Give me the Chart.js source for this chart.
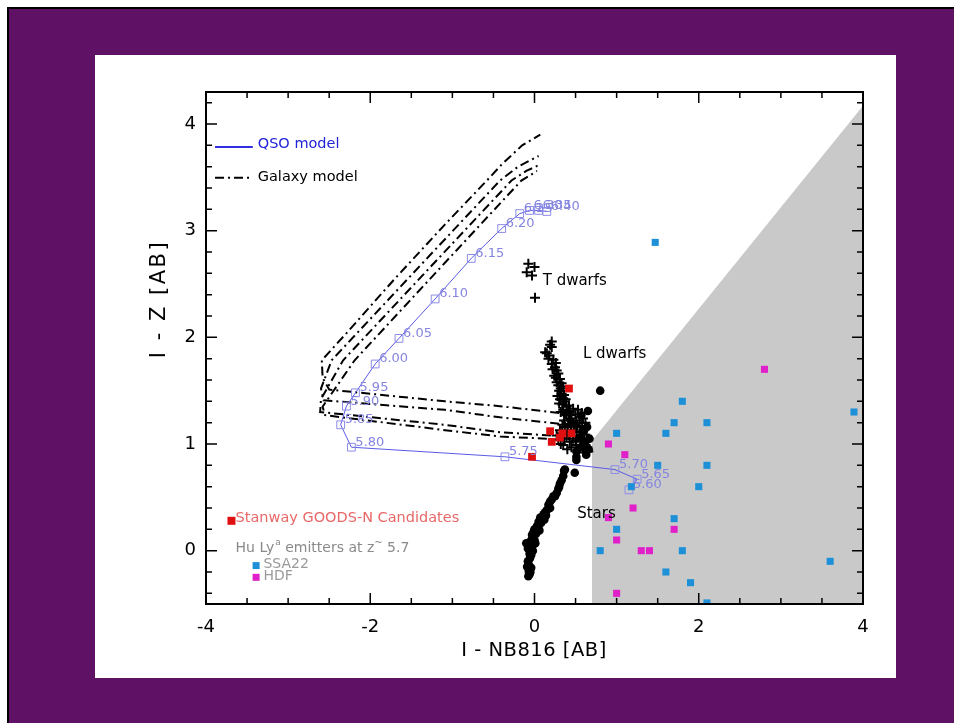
<!DOCTYPE html>
<html>
<head>
<meta charset="utf-8">
<title>I - Z vs I - NB816</title>
<script src="https://cdn.jsdelivr.net/npm/chart.js@4.4.1/dist/chart.umd.min.js"></script>
<style>
  html, body { margin: 0; padding: 0; background: #fff; }
  #wrap { position: relative; width: 954px; height: 723px; }
</style>
</head>
<body>
<div id="wrap"><canvas id="colourChart" width="954" height="723"></canvas></div>
<script>
// axis ticks
const X_TICKS = [-4, -2, 0, 2, 4];
const Y_TICKS = [0, 1, 2, 3, 4];

// QSO model track (redshift labels)
const QSO_Z = [5.60, 5.65, 5.70, 5.75, 5.80, 5.85, 5.90, 5.95, 6.00, 6.05, 6.10, 6.15, 6.20, 6.25, 6.30, 6.35, 6.40];
const QSO_X = [1.15, 1.25, 0.98, -0.36, -2.23, -2.36, -2.29, -2.18, -1.94, -1.65, -1.21, -0.77, -0.40, -0.18, -0.06, 0.05, 0.15];
const QSO_Y = [0.57, 0.67, 0.76, 0.88, 0.97, 1.18, 1.355, 1.48, 1.75, 1.99, 2.36, 2.74, 3.02, 3.16, 3.19, 3.19, 3.18];

// galaxy model tracks
const GAL1_X = [0.30, -0.42, -1.09, -2.50, -2.58, -2.59, -2.30, -1.70, -1.10, -0.58, -0.40, -0.15, 0.07];
const GAL1_Y = [1.29, 1.355, 1.40, 1.51, 1.62, 1.785, 2.03, 2.55, 3.05, 3.47, 3.62, 3.80, 3.90];
const GAL2_X = [0.30, -0.42, -1.09, -2.57, -2.60, -2.47, -1.48, -0.42, -0.20, 0.05];
const GAL2_Y = [1.19, 1.25, 1.32, 1.41, 1.52, 1.785, 2.60, 3.47, 3.60, 3.70];
const GAL3_X = [0.20, -0.42, -1.09, -2.61, -2.60, -2.33, -1.34, -0.28, -0.10, 0.04];
const GAL3_Y = [1.08, 1.11, 1.18, 1.30, 1.42, 1.785, 2.60, 3.47, 3.56, 3.61];
const GAL4_X = [0.15, -0.42, -1.09, -2.55, -2.58, -2.19, -1.21, -0.16, -0.05, 0.03];
const GAL4_Y = [1.05, 1.07, 1.13, 1.27, 1.35, 1.785, 2.60, 3.47, 3.52, 3.56];

// selection region edge
const CUT_X = [0.7, 4.0];
const CUT_Y = [1.03, 4.17];

// T and L dwarfs (crosses)
const DWARF_X = [-0.075, 0.0, -0.095, -0.03, 0.006,
  0.21, 0.21, 0.13, 0.15, 0.18, 0.23, 0.21, 0.25, 0.27, 0.29, 0.24, 0.31, 0.27, 0.33, 0.35, 0.30, 0.33, 0.35, 0.37,
  0.30, 0.39, 0.35, 0.43, 0.53, 0.575, 0.39, 0.45, 0.51, 0.59, 0.41, 0.49, 0.55, 0.37, 0.31, 0.45, 0.51, 0.595,
  0.39, 0.47, 0.55, 0.64, 0.29, 0.35, 0.51, 0.59, 0.655, 0.43, 0.40, 0.47, 0.33, 0.36, 0.26,
  0.19, 0.17, 0.22, 0.26, 0.29, 0.32, 0.28, 0.31, 0.34, 0.32, 0.37, 0.42, 0.47, 0.50, 0.44, 0.36, 0.42, 0.55,
  0.62, 0.58, 0.34, 0.44, 0.52, 0.61, 0.56, 0.48, 0.42, 0.36, 0.50, 0.57, 0.62, 0.45, 0.40, 0.53, 0.60, 0.32,
  0.27, 0.38, 0.41];
const DWARF_Y = [2.69, 2.66, 2.61, 2.58, 2.37,
  1.96, 1.91, 1.86, 1.85, 1.83, 1.79, 1.75, 1.72, 1.69, 1.66, 1.64, 1.61, 1.58, 1.57, 1.54, 1.50, 1.47, 1.43, 1.40,
  1.38, 1.35, 1.32, 1.30, 1.32, 1.29, 1.27, 1.24, 1.22, 1.24, 1.19, 1.18, 1.16, 1.16, 1.13, 1.13, 1.115, 1.13,
  1.07, 1.05, 1.07, 1.04, 1.04, 0.99, 0.99, 0.97, 0.93, 1.02, 1.12, 1.20, 1.10, 1.46, 1.76,
  1.93, 1.80, 1.70, 1.62, 1.55, 1.52, 1.45, 1.42, 1.37, 1.30, 1.28, 1.36, 1.33, 1.28, 1.27, 1.22, 1.22, 1.25,
  1.20, 1.20, 1.18, 1.17, 1.17, 1.09, 1.11, 1.11, 1.08, 1.05, 1.03, 1.02, 0.99, 0.97, 0.95, 0.94, 0.92, 1.00,
  1.08, 1.42, 1.31];

// stars (filled circles)
const STAR_X = [-0.075, -0.07, -0.07, -0.055, -0.06, -0.03, -0.05, -0.10, -0.04, -0.03, -0.01, 0.00, 0.03, 0.05, 0.07,
  0.09, 0.11, 0.13, 0.15, 0.17, 0.19, 0.23, 0.25, 0.27, 0.31, 0.33, 0.36, 0.37, 0.49, 0.51, 0.51, 0.51,
  0.65, 0.64, 0.80, 0.62, 0.58, 0.66, 0.55, -0.02, 0.00, -0.08, -0.04, -0.05, 0.02, 0.04, -0.02,
  -0.09, -0.04, -0.08, -0.02, 0.01, 0.06, 0.08, 0.12, 0.14, 0.19, 0.21, 0.29, 0.30, 0.35, -0.06,
  0.57, 0.60, 0.67, 0.63];
const STAR_Y = [-0.24, -0.19, -0.13, -0.07, -0.03, -0.01, 0.04, 0.07, 0.10, 0.15, 0.18, 0.20, 0.23, 0.27, 0.31,
  0.30, 0.34, 0.36, 0.38, 0.43, 0.46, 0.51, 0.51, 0.54, 0.63, 0.66, 0.75, 0.76, 0.73, 0.85, 0.88, 0.93,
  1.31, 1.16, 1.50, 1.02, 0.98, 0.95, 1.06, 0.05, 0.10, -0.10, -0.16, -0.20, 0.16, 0.22, 0.12,
  -0.15, -0.04, 0.02, 0.00, 0.07, 0.19, 0.26, 0.29, 0.33, 0.40, 0.48, 0.58, 0.60, 0.70, -0.22,
  1.27, 1.12, 1.05, 0.90];

// Stanway GOODS-N candidates
const STANWAY_X = [0.42, 0.19, 0.21, 0.31, 0.34, 0.45, -0.03];
const STANWAY_Y = [1.52, 1.12, 1.02, 1.06, 1.10, 1.10, 0.88];

// Hu et al. Ly-alpha emitters
const SSA22_X = [1.80, 3.89, 1.70, 2.10, 1.00, 1.60, 1.50, 2.10, 2.00, 1.18, 1.70, 1.00, 0.80, 1.80, 3.60, 1.60, 1.90, 2.10, 1.47];
const SSA22_Y = [1.40, 1.30, 1.20, 1.20, 1.10, 1.10, 0.80, 0.80, 0.60, 0.60, 0.30, 0.20, 0.00, 0.00, -0.10, -0.20, -0.30, -0.49, 2.89];
const HDF_X = [0.90, 1.10, 1.20, 0.90, 1.70, 1.00, 1.30, 1.40, 1.00, 2.80];
const HDF_Y = [1.00, 0.90, 0.40, 0.31, 0.20, 0.10, 0.00, 0.00, -0.40, 1.70];

const FONT = "'DejaVu Sans', 'Liberation Sans', sans-serif";

function pts(xs, ys) {
    return xs.map((v, i) => ({ x: v, y: ys[i] }));
}

// purple slide with a white panel behind the plot
const slideBackground = {
    id: 'slideBackground',
    beforeDraw(chart) {
        const ctx = chart.ctx;
        ctx.save();
        ctx.fillStyle = '#ffffff';
        ctx.fillRect(0, 0, 954, 723);
        ctx.fillStyle = '#5f1265';
        ctx.fillRect(8, 8, 946, 715);
        ctx.fillStyle = '#000000';
        ctx.fillRect(7, 7, 947, 2);
        ctx.fillRect(7, 7, 2, 716);
        ctx.fillStyle = '#ffffff';
        ctx.fillRect(95, 55, 801, 623);
        ctx.restore();
    }
};

// IDL style box with inward ticks on all four sides
const frameTicks = {
    id: 'frameTicks',
    afterDatasetsDraw(chart) {
        const { ctx, chartArea: a, scales: { x, y } } = chart;
        ctx.save();
        ctx.strokeStyle = '#000';
        ctx.lineWidth = 1.5;
        ctx.beginPath();
        for (let i = -8; i <= 8; i++) {
            const px = x.getPixelForValue(i / 2);
            const len = i % 4 === 0 ? 11 : 6;
            ctx.moveTo(px, a.bottom); ctx.lineTo(px, a.bottom - len);
            ctx.moveTo(px, a.top); ctx.lineTo(px, a.top + len);
        }
        for (let i = -2; i <= 21; i++) {
            const py = y.getPixelForValue(i / 5);
            const len = i % 5 === 0 ? 11 : 6;
            ctx.moveTo(a.left, py); ctx.lineTo(a.left + len, py);
            ctx.moveTo(a.right, py); ctx.lineTo(a.right - len, py);
        }
        ctx.stroke();
        ctx.lineWidth = 2;
        ctx.strokeRect(a.left, a.top, a.right - a.left, a.bottom - a.top);
        ctx.restore();
    }
};

function putText(ctx, str, px, py, size, color, align) {
    ctx.font = size + 'px ' + FONT;
    ctx.fillStyle = color;
    ctx.textAlign = align || 'left';
    ctx.textBaseline = 'middle';
    ctx.fillText(str, px, py);
    return ctx.measureText(str).width;
}

// labels, legend and axis titles
const annotations = {
    id: 'annotations',
    afterDraw(chart) {
        const { ctx, scales: { x, y } } = chart;
        const X = v => x.getPixelForValue(v);
        const Y = v => y.getPixelForValue(v);
        ctx.save();

        // redshift labels on the QSO track
        const qsoMeta = chart.getDatasetMeta(5);
        qsoMeta.data.forEach((p, i) => {
            putText(ctx, QSO_Z[i].toFixed(2), p.x + 4, p.y - 5, 13, '#8585e0');
        });

        // legend lines
        ctx.lineWidth = 2;
        ctx.strokeStyle = '#3030e0';
        ctx.beginPath();
        ctx.moveTo(X(-3.89), Y(3.785)); ctx.lineTo(X(-3.43), Y(3.785));
        ctx.stroke();
        ctx.strokeStyle = '#000';
        ctx.setLineDash([9, 4, 2, 4]);
        ctx.beginPath();
        ctx.moveTo(X(-3.89), Y(3.495)); ctx.lineTo(X(-3.43), Y(3.495));
        ctx.stroke();
        ctx.setLineDash([]);
        putText(ctx, 'QSO model', X(-3.37), Y(3.81), 14.5, '#2222d8');
        putText(ctx, 'Galaxy model', X(-3.37), Y(3.50), 14.5, '#000');

        // region labels
        putText(ctx, 'T dwarfs', X(0.10), Y(2.53), 15, '#000');
        putText(ctx, 'L dwarfs', X(0.59), Y(1.84), 15, '#000');
        putText(ctx, 'Stars', X(0.52), Y(0.34), 15, '#000');

        // sample key
        ctx.fillStyle = '#e01010';
        ctx.fillRect(X(-3.69) - 4, Y(0.28) - 4, 8, 8);
        putText(ctx, 'Stanway GOODS-N Candidates', X(-3.64), Y(0.30), 14.5, '#e86868');
        let cx = X(-3.64);
        const hy = Y(0.02);
        cx += putText(ctx, 'Hu Ly', cx, hy, 14, '#8a8a8a');
        cx += putText(ctx, 'a', cx + 1, hy - 6, 9, '#8a8a8a') + 1;
        cx += putText(ctx, ' emitters at z', cx, hy, 14, '#8a8a8a');
        cx += putText(ctx, '~', cx, hy - 5, 10, '#8a8a8a');
        putText(ctx, ' 5.7', cx, hy, 14, '#8a8a8a');
        ctx.fillStyle = '#1e90d8';
        ctx.fillRect(X(-3.39) - 3.5, Y(-0.14) - 3.5, 7, 7);
        ctx.fillStyle = '#e020c8';
        ctx.fillRect(X(-3.39) - 3.5, Y(-0.25) - 3.5, 7, 7);
        putText(ctx, 'SSA22', X(-3.30), Y(-0.13), 14, '#9a9a9a');
        putText(ctx, 'HDF', X(-3.30), Y(-0.245), 14, '#9a9a9a');

        // axis titles
        ctx.letterSpacing = '0.5px';
        putText(ctx, 'I - NB816 [AB]', 534, 651, 19.5, '#000', 'center');
        ctx.letterSpacing = '2.5px';
        ctx.translate(160, 299);
        ctx.rotate(-Math.PI / 2);
        putText(ctx, 'I - Z [AB]', 0, 0, 21, '#000', 'center');
        ctx.restore();
    }
};

const ctx = document.getElementById('colourChart').getContext('2d');

function galaxy(xs, ys, ord) {
    return {
        type: 'line', data: pts(xs, ys), order: ord,
        borderColor: '#000', borderWidth: 2, borderDash: [9, 4, 2, 4],
        pointRadius: 0, fill: false, tension: 0
    };
}

new Chart(ctx, {
    type: 'scatter',
    data: {
        datasets: [
            { label: 'HDF', data: pts(HDF_X, HDF_Y), order: 0, pointStyle: 'rect', pointRadius: 5,
              backgroundColor: '#e020c8', borderWidth: 0 },
            { label: 'SSA22', data: pts(SSA22_X, SSA22_Y), order: 1, pointStyle: 'rect', pointRadius: 5,
              backgroundColor: '#1e90d8', borderWidth: 0 },
            { label: 'Stanway GOODS-N', data: pts(STANWAY_X, STANWAY_Y), order: 2, pointStyle: 'rect',
              pointRadius: 5.5, backgroundColor: '#e01010', borderWidth: 0 },
            { label: 'Dwarfs', data: pts(DWARF_X, DWARF_Y), order: 3, pointStyle: 'cross', pointRadius: 5,
              borderColor: '#000', borderWidth: 2 },
            { label: 'Stars', data: pts(STAR_X, STAR_Y), order: 4, pointStyle: 'circle', pointRadius: 4.3,
              backgroundColor: '#000', borderWidth: 0 },
            { label: 'QSO model', type: 'line', data: pts(QSO_X, QSO_Y), order: 5,
              borderColor: '#5a5ae6', borderWidth: 1, tension: 0, fill: false,
              pointStyle: 'rect', pointRadius: 5.5, pointBorderColor: '#8c8ce8', pointBorderWidth: 1,
              pointBackgroundColor: 'rgba(0,0,0,0)' },
            galaxy(GAL1_X, GAL1_Y, 6),
            galaxy(GAL2_X, GAL2_Y, 7),
            galaxy(GAL3_X, GAL3_Y, 8),
            galaxy(GAL4_X, GAL4_Y, 9),
            { label: 'Selection', type: 'line', data: pts(CUT_X, CUT_Y), order: 10,
              borderWidth: 0, pointRadius: 0, fill: 'start', backgroundColor: '#c9c9c9' }
        ]
    },
    options: {
        responsive: false,
        animation: false,
        layout: { padding: { left: 0, top: 92, right: 91, bottom: 0 } },
        plugins: { legend: { display: false }, tooltip: { enabled: false } },
        scales: {
            x: {
                type: 'linear', min: -4, max: 4,
                afterBuildTicks: s => { s.ticks = X_TICKS.map(v => ({ value: v })); },
                afterFit: s => { s.height = 119; },
                grid: { display: false, drawTicks: false },
                border: { display: false },
                ticks: { color: '#000', padding: 13, maxRotation: 0, font: { family: FONT, size: 18 } }
            },
            y: {
                type: 'linear', min: -0.5, max: 4.3,
                afterBuildTicks: s => { s.ticks = Y_TICKS.map(v => ({ value: v })); },
                afterFit: s => { s.width = 206; },
                grid: { display: false, drawTicks: false },
                border: { display: false },
                ticks: { color: '#000', padding: 10, font: { family: FONT, size: 18 } }
            }
        }
    },
    plugins: [slideBackground, frameTicks, annotations]
});
</script>
</body>
</html>
